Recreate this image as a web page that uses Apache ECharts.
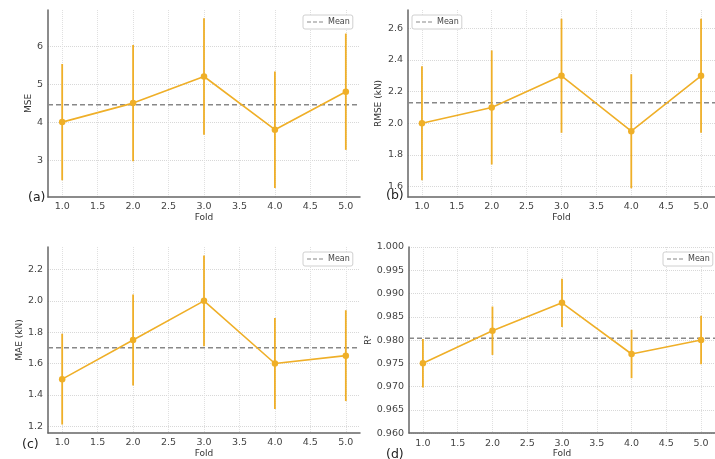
<!DOCTYPE html>
<html>
<head>
<meta charset="utf-8">
<script src="https://cdn.jsdelivr.net/npm/echarts@6/dist/echarts.min.js"></script>
<style>html,body{margin:0;padding:0;background:#fff}#c{width:715px;height:459px}</style>
</head>
<body>
<div id="c"></div>
<script>
// ---- data ----
var folds = [1, 2, 3, 4, 5];
var xTicks = [1.0, 1.5, 2.0, 2.5, 3.0, 3.5, 4.0, 4.5, 5.0];
var mseValues = [4.0, 4.5, 5.2, 3.8, 4.8];
var mseErrors = [1.53, 1.53, 1.53, 1.53, 1.53];
var mseTicks = [3, 4, 5, 6];
var rmseValues = [2.0, 2.1, 2.3, 1.95, 2.3];
var rmseErrors = [0.36, 0.36, 0.36, 0.36, 0.36];
var rmseTicks = [1.6, 1.8, 2.0, 2.2, 2.4, 2.6];
var maeValues = [1.5, 1.75, 2.0, 1.6, 1.65];
var maeErrors = [0.29, 0.29, 0.29, 0.29, 0.29];
var maeTicks = [1.2, 1.4, 1.6, 1.8, 2.0, 2.2];
var r2Values = [0.975, 0.982, 0.988, 0.977, 0.980];
var r2Errors = [0.0052, 0.0052, 0.0052, 0.0052, 0.0052];
var r2Ticks = [0.960, 0.965, 0.970, 0.975, 0.980, 0.985, 0.990, 0.995, 1.000];

var panels = [
  {vals: mseValues, errs: mseErrors, ticks: mseTicks, dec: 0, name: 'MSE', letter: '(a)'},
  {vals: rmseValues, errs: rmseErrors, ticks: rmseTicks, dec: 1, name: 'RMSE (kN)', letter: '(b)'},
  {vals: maeValues, errs: maeErrors, ticks: maeTicks, dec: 1, name: 'MAE (kN)', letter: '(c)'},
  {vals: r2Values, errs: r2Errors, ticks: r2Ticks, dec: 3, name: 'R²', letter: '(d)'}
];

// ---- layout / style ----
var COLOR = '#efaf28';
var grids = [
  {left: 48, top: 10, width: 312, height: 187},
  {left: 408, top: 10, width: 313, height: 187},
  {left: 48, top: 247, width: 312, height: 186},
  {left: 409, top: 247, width: 313, height: 187}
];
var yRanges = [[2.03, 6.95], [1.535, 2.715], [1.156, 2.344], [0.96, 1.0]];
var yNameGaps = [15, 25, 24, 36];
var legendPos = [{left: 303, top: 15}, {left: 412, top: 15}, {left: 303, top: 252}, {left: 663, top: 252}];
var letterPos = [{left: 28, top: 191}, {left: 386, top: 189}, {left: 22, top: 438}, {left: 386, top: 448}];

var FONT = 'DejaVu Sans';
var DASH_ICON = 'path://M0 0H4V1H0Z M6 0H10V1H6Z M12 0H16V1H12Z';
var option = {
  backgroundColor: '#fff',
  animation: false,
  textStyle: {fontFamily: FONT},
  grid: grids.map(function (g) { return Object.assign({containLabel: false}, g); }),
  xAxis: [], yAxis: [], series: [], legend: [], title: []
};

panels.forEach(function (p, i) {
  option.xAxis.push({
    type: 'value', gridIndex: i, min: 0.8, max: 5.2,
    name: 'Fold', nameLocation: 'middle', nameGap: 15,
    nameTextStyle: {fontSize: 9, color: '#333', fontFamily: FONT},
    axisLine: {show: true, lineStyle: {color: '#666', width: 1.5}},
    axisTick: {show: false, customValues: xTicks},
    axisLabel: {customValues: xTicks, fontSize: 9.5, color: '#444', margin: 5, fontFamily: FONT,
      formatter: function (v) { return v.toFixed(1); }},
    splitLine: {show: true, lineStyle: {color: '#e0e0e0', type: 'dotted', width: 1}}
  });
  option.yAxis.push({
    type: 'value', gridIndex: i, min: yRanges[i][0], max: yRanges[i][1],
    name: p.name, nameLocation: 'middle', nameGap: yNameGaps[i], nameRotate: 90,
    nameTextStyle: {fontSize: 9, color: '#333', fontFamily: FONT},
    axisLine: {show: true, lineStyle: {color: '#666', width: 1.5}},
    axisTick: {show: false, customValues: p.ticks},
    axisLabel: {customValues: p.ticks, fontSize: 9.5, color: '#444', margin: 5, fontFamily: FONT,
      formatter: (function (d) { return function (v) { return v.toFixed(d); }; })(p.dec)},
    splitLine: {show: true, lineStyle: {color: '#d8d8d8', type: 'dotted', width: 1}}
  });
  var mean = p.vals.reduce(function (a, b) { return a + b; }, 0) / p.vals.length;
  var errData = folds.map(function (f, k) { return [f, p.vals[k] - p.errs[k], p.vals[k] + p.errs[k]]; });
  option.series.push({
    type: 'custom', xAxisIndex: i, yAxisIndex: i, data: errData, z: 2,
    renderItem: function (params, api) {
      var a = api.coord([api.value(0), api.value(1)]);
      var b = api.coord([api.value(0), api.value(2)]);
      return {type: 'line', shape: {x1: a[0], y1: a[1], x2: b[0], y2: b[1]},
        style: {stroke: COLOR, lineWidth: 1.8}};
    }
  });
  option.series.push({
    type: 'line', xAxisIndex: i, yAxisIndex: i, z: 3,
    data: folds.map(function (f, k) { return [f, p.vals[k]]; }),
    symbol: 'circle', symbolSize: 6.5,
    itemStyle: {color: COLOR},
    lineStyle: {color: COLOR, width: 1.6}
  });
  option.series.push({
    type: 'line', name: 'Mean', xAxisIndex: i, yAxisIndex: i, z: 1,
    data: [[0.8, mean], [5.2, mean]], symbol: 'none',
    itemStyle: {color: '#888'},
    lineStyle: {color: '#888', width: 1.5, type: [5, 3]}
  });
  option.legend.push({
    data: [{name: 'Mean', icon: DASH_ICON, itemStyle: {color: '#888', borderWidth: 0}}],
    left: legendPos[i].left, top: legendPos[i].top,
    itemWidth: 16, itemHeight: 1.3, itemGap: 4,
    padding: [3, 3, 3, 4],
    borderColor: '#d0d0d0', borderWidth: 1, borderRadius: 2, backgroundColor: '#fff',
    textStyle: {fontSize: 8, color: '#444', fontFamily: FONT},
    selectedMode: false
  });
  option.title.push({
    text: p.letter, left: letterPos[i].left, top: letterPos[i].top, padding: 0,
    textStyle: {fontSize: 12.5, fontWeight: 'normal', color: '#222', fontFamily: FONT}
  });
});

var chart = echarts.init(document.getElementById('c'), null, {renderer: 'canvas'});
chart.setOption(option);
</script>
</body>
</html>
